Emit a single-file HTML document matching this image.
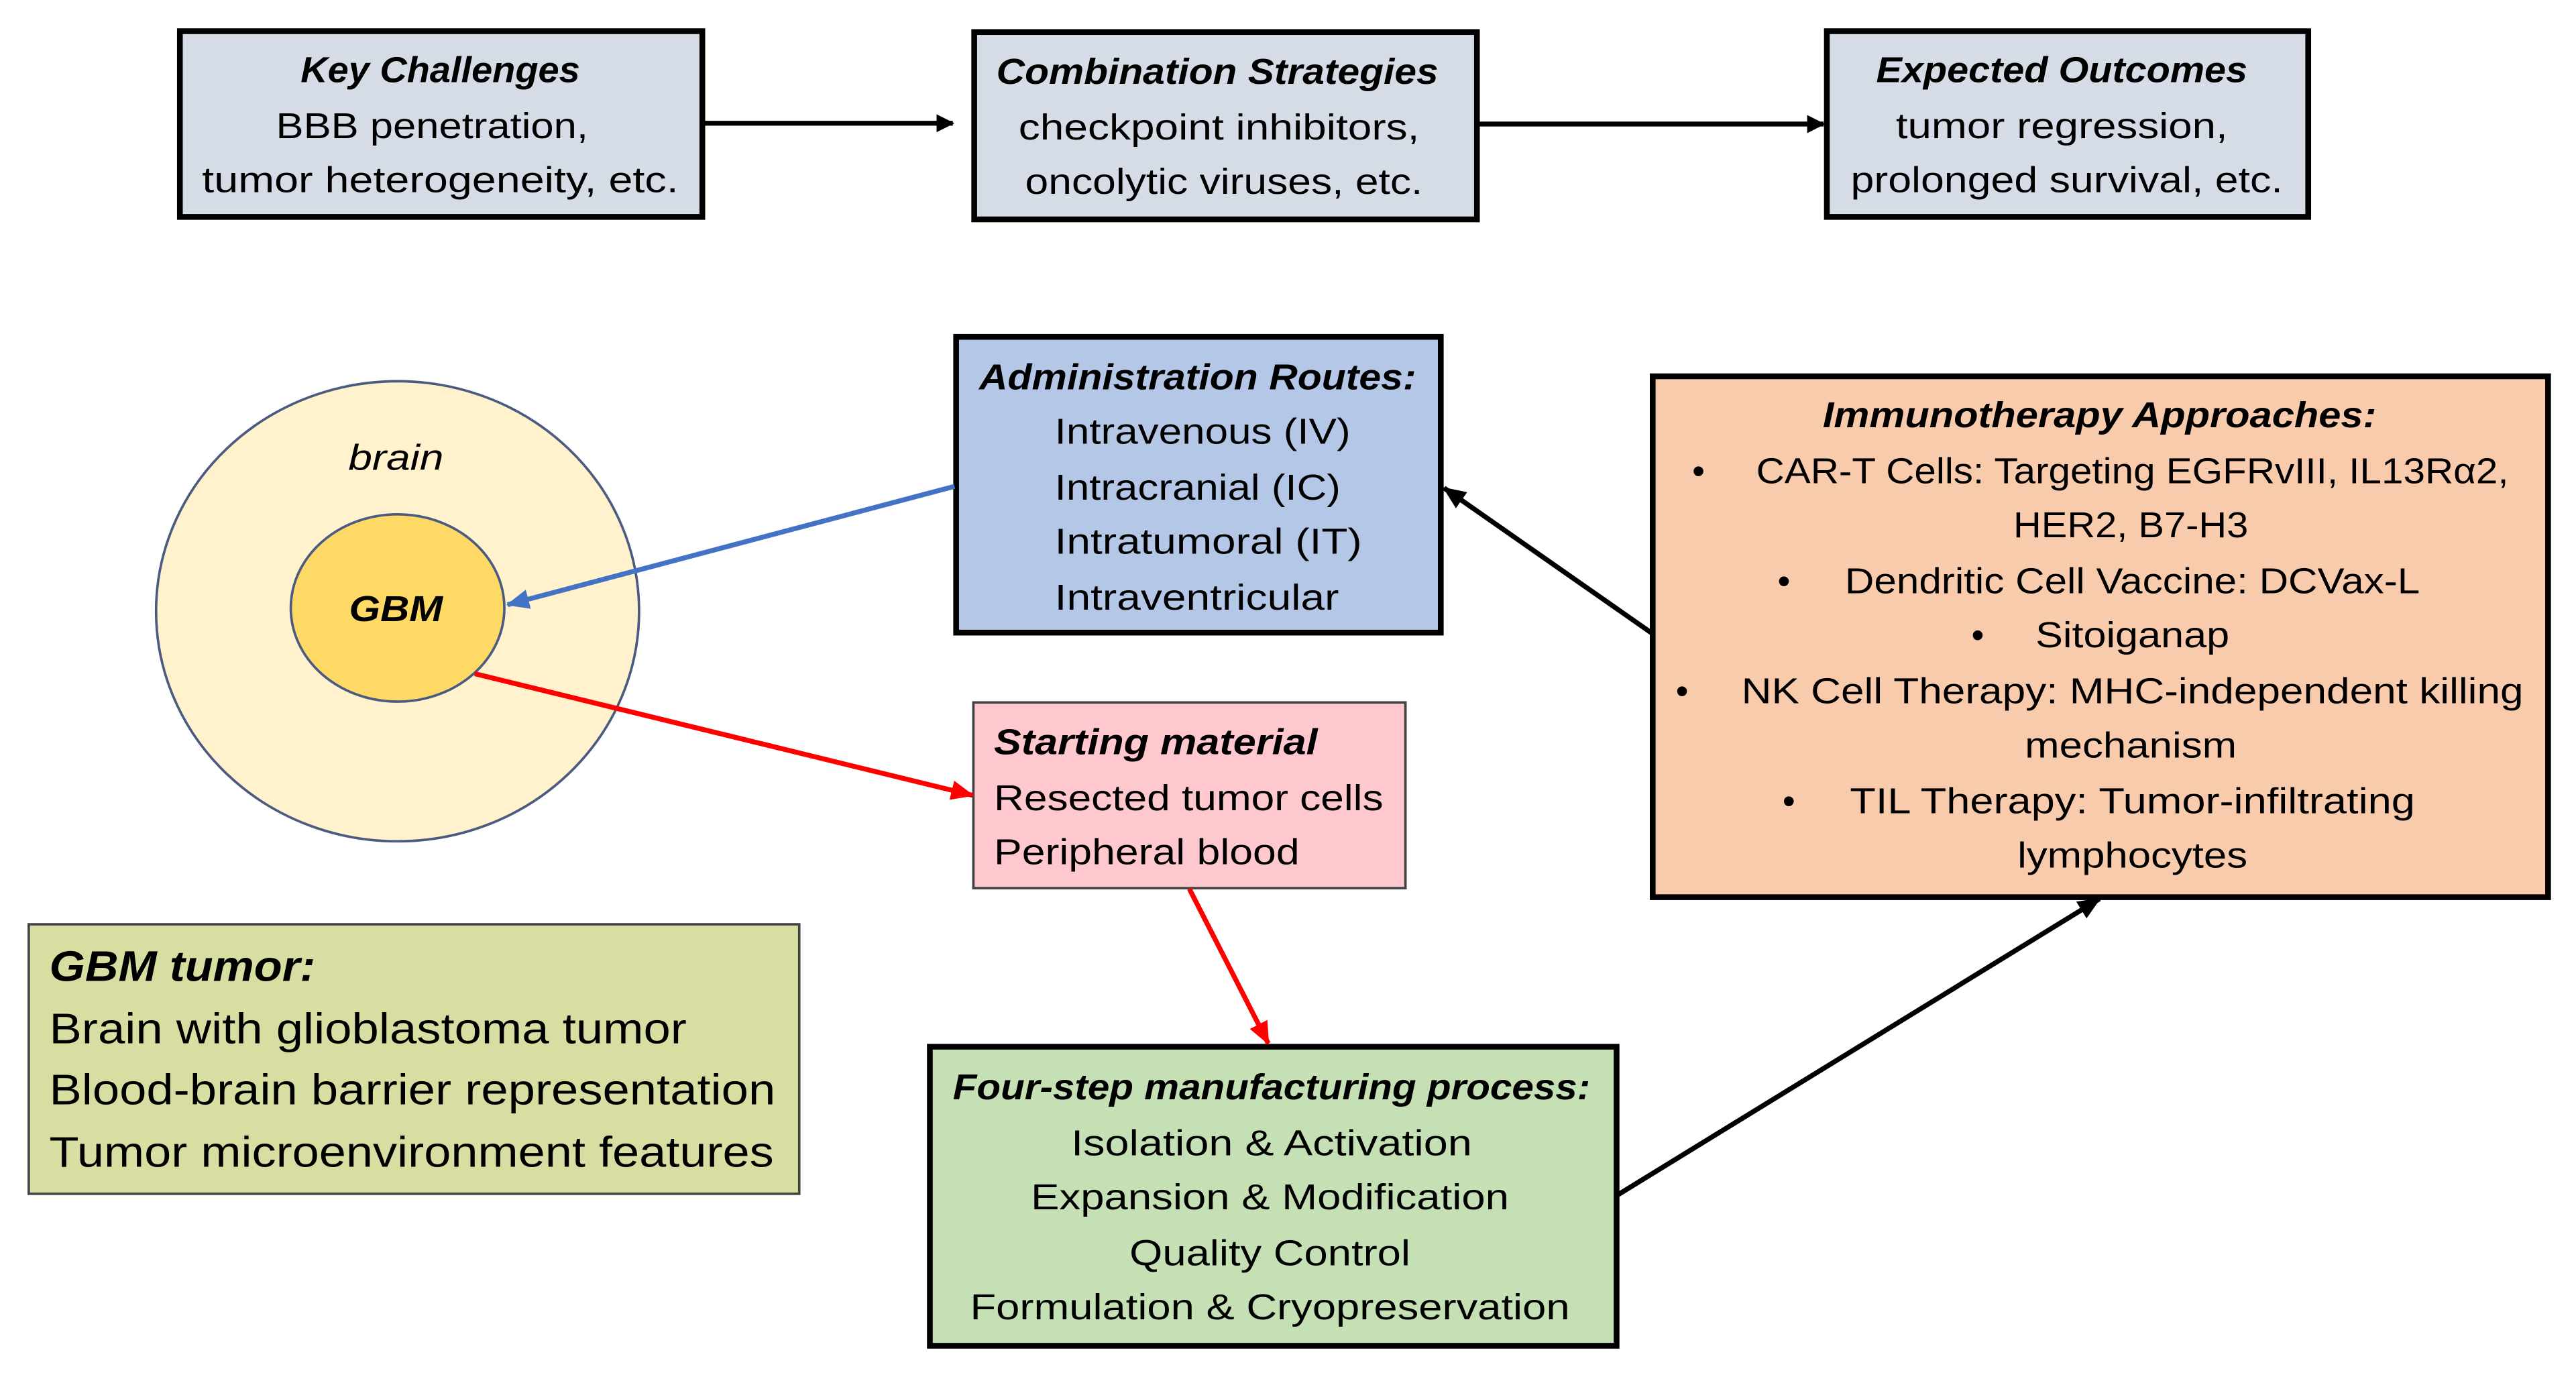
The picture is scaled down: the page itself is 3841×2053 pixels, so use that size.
<!DOCTYPE html>
<html><head><meta charset="utf-8"><style>html,body{margin:0;padding:0;background:#fff}svg{display:block}</style></head>
<body>
<svg width="3841" height="2053" viewBox="0 0 1568 838" preserveAspectRatio="none" xmlns="http://www.w3.org/2000/svg" font-family="Liberation Sans, sans-serif" font-size="22" fill="#000">
<defs>
<marker id="ak" markerWidth="11" markerHeight="11" refX="10" refY="5.5" orient="auto" markerUnits="userSpaceOnUse"><path d="M0,0 L11,5.5 L0,11 z" fill="#000"/></marker>
<marker id="ab" markerWidth="14" markerHeight="12" refX="13" refY="6" orient="auto" markerUnits="userSpaceOnUse"><path d="M0,0 L14,6 L0,12 z" fill="#4472c4"/></marker>
<marker id="ar" markerWidth="14" markerHeight="12" refX="13" refY="6" orient="auto" markerUnits="userSpaceOnUse"><path d="M0,0 L14,6 L0,12 z" fill="#ff0000"/></marker>
<marker id="ak2" markerWidth="14" markerHeight="12" refX="13" refY="6" orient="auto" markerUnits="userSpaceOnUse"><path d="M0,0 L14,6 L0,12 z" fill="#000"/></marker>
</defs>
<g stroke="#000" stroke-width="3.5">
<rect x="109.5" y="19" width="318" height="113" fill="#d6dce5"/>
<rect x="593" y="19.5" width="306" height="114" fill="#d6dce5"/>
<rect x="1112" y="19" width="293" height="113" fill="#d6dce5"/>
<rect x="582" y="205" width="295" height="180" fill="#b4c7e7"/>
<rect x="566" y="637" width="418" height="182" fill="#c5e0b4"/>
<rect x="1006" y="229" width="545" height="317" fill="#f8cbad"/>
</g>
<rect x="592.5" y="427.5" width="263" height="113" fill="#ffc7ce" stroke="#444" stroke-width="1.5"/>
<rect x="17.5" y="562.5" width="469" height="164" fill="#d8dea2" stroke="#444" stroke-width="1.5"/>
<ellipse cx="242" cy="372" rx="147" ry="140" fill="#fff2cc" stroke="#4a5a80" stroke-width="1.5"/>
<ellipse cx="242" cy="370" rx="65" ry="57" fill="#ffd966" stroke="#4a5a80" stroke-width="1.5"/>
<g fill="none" stroke-width="3">
<line x1="428" y1="75" x2="580" y2="75" stroke="#000" marker-end="url(#ak)"/>
<line x1="900" y1="75.5" x2="1110" y2="75.5" stroke="#000" marker-end="url(#ak)"/>
<line x1="581" y1="296" x2="309" y2="368" stroke="#4472c4" marker-end="url(#ab)"/>
<line x1="289" y1="410" x2="592" y2="484" stroke="#ff0000" marker-end="url(#ar)"/>
<line x1="724" y1="541" x2="772" y2="635" stroke="#ff0000" marker-end="url(#ar)"/>
<line x1="1005" y1="385" x2="879" y2="297" stroke="#000" marker-end="url(#ak2)"/>
<line x1="985" y1="727" x2="1278" y2="547" stroke="#000" marker-end="url(#ak2)"/>
</g>
<g text-anchor="middle">
<text x="268" y="50" font-weight="bold" font-style="italic" textLength="170" lengthAdjust="spacingAndGlyphs">Key Challenges</text>
<text x="263" y="84" textLength="190" lengthAdjust="spacingAndGlyphs">BBB penetration,</text>
<text x="268" y="117" textLength="290" lengthAdjust="spacingAndGlyphs">tumor heterogeneity, etc.</text>
<text x="741" y="51" font-weight="bold" font-style="italic" textLength="269" lengthAdjust="spacingAndGlyphs">Combination Strategies</text>
<text x="742" y="85" textLength="244" lengthAdjust="spacingAndGlyphs">checkpoint inhibitors,</text>
<text x="745" y="118" textLength="242" lengthAdjust="spacingAndGlyphs">oncolytic viruses, etc.</text>
<text x="1255" y="50" font-weight="bold" font-style="italic" textLength="226" lengthAdjust="spacingAndGlyphs">Expected Outcomes</text>
<text x="1255" y="84" textLength="202" lengthAdjust="spacingAndGlyphs">tumor regression,</text>
<text x="1258" y="117" textLength="263" lengthAdjust="spacingAndGlyphs">prolonged survival, etc.</text>
<text x="729" y="237" font-weight="bold" font-style="italic" textLength="266" lengthAdjust="spacingAndGlyphs">Administration Routes:</text>
<text x="241" y="286" font-style="italic" textLength="58" lengthAdjust="spacingAndGlyphs">brain</text>
<text x="241" y="378" font-weight="bold" font-style="italic" textLength="57" lengthAdjust="spacingAndGlyphs">GBM</text>
<text x="774" y="669" font-weight="bold" font-style="italic" textLength="388" lengthAdjust="spacingAndGlyphs">Four-step manufacturing process:</text>
<text x="774" y="703" textLength="244" lengthAdjust="spacingAndGlyphs">Isolation &amp; Activation</text>
<text x="773" y="736" textLength="291" lengthAdjust="spacingAndGlyphs">Expansion &amp; Modification</text>
<text x="773" y="770" textLength="171" lengthAdjust="spacingAndGlyphs">Quality Control</text>
<text x="773" y="803" textLength="365" lengthAdjust="spacingAndGlyphs">Formulation &amp; Cryopreservation</text>
<text x="1278" y="260" font-weight="bold" font-style="italic" textLength="337" lengthAdjust="spacingAndGlyphs">Immunotherapy Approaches:</text>
<text x="1297" y="327" textLength="143" lengthAdjust="spacingAndGlyphs">HER2, B7-H3</text>
<text x="1297" y="461" textLength="129" lengthAdjust="spacingAndGlyphs">mechanism</text>
<text x="1298" y="528" textLength="140" lengthAdjust="spacingAndGlyphs">lymphocytes</text>
</g>
<g text-anchor="start">
<text x="642" y="270" textLength="180" lengthAdjust="spacingAndGlyphs">Intravenous (IV)</text>
<text x="642" y="304" textLength="174" lengthAdjust="spacingAndGlyphs">Intracranial (IC)</text>
<text x="642" y="337" textLength="187" lengthAdjust="spacingAndGlyphs">Intratumoral (IT)</text>
<text x="642" y="371" textLength="173" lengthAdjust="spacingAndGlyphs">Intraventricular</text>
<text x="605" y="459" font-weight="bold" font-style="italic" textLength="197" lengthAdjust="spacingAndGlyphs">Starting material</text>
<text x="605" y="493" textLength="237" lengthAdjust="spacingAndGlyphs">Resected tumor cells</text>
<text x="605" y="526" textLength="186" lengthAdjust="spacingAndGlyphs">Peripheral blood</text>
<g font-size="26">
<text x="30" y="597" font-weight="bold" font-style="italic" textLength="162" lengthAdjust="spacingAndGlyphs">GBM tumor:</text>
<text x="30" y="635" textLength="388" lengthAdjust="spacingAndGlyphs">Brain with glioblastoma tumor</text>
<text x="30" y="672" textLength="442" lengthAdjust="spacingAndGlyphs">Blood-brain barrier representation</text>
<text x="30" y="710" textLength="441" lengthAdjust="spacingAndGlyphs">Tumor microenvironment features</text>
</g>
<text x="1030" y="294">•</text>
<text x="1069" y="294" textLength="458" lengthAdjust="spacingAndGlyphs">CAR-T Cells: Targeting EGFRvIII, IL13Rα2,</text>
<text x="1082" y="361">•</text>
<text x="1123" y="361" textLength="350" lengthAdjust="spacingAndGlyphs">Dendritic Cell Vaccine: DCVax-L</text>
<text x="1200" y="394">•</text>
<text x="1239" y="394" textLength="118" lengthAdjust="spacingAndGlyphs">Sitoiganap</text>
<text x="1020" y="428">•</text>
<text x="1060" y="428" textLength="476" lengthAdjust="spacingAndGlyphs">NK Cell Therapy: MHC-independent killing</text>
<text x="1085" y="495">•</text>
<text x="1126" y="495" textLength="344" lengthAdjust="spacingAndGlyphs">TIL Therapy: Tumor-infiltrating</text>
</g>
</svg>
</body></html>
